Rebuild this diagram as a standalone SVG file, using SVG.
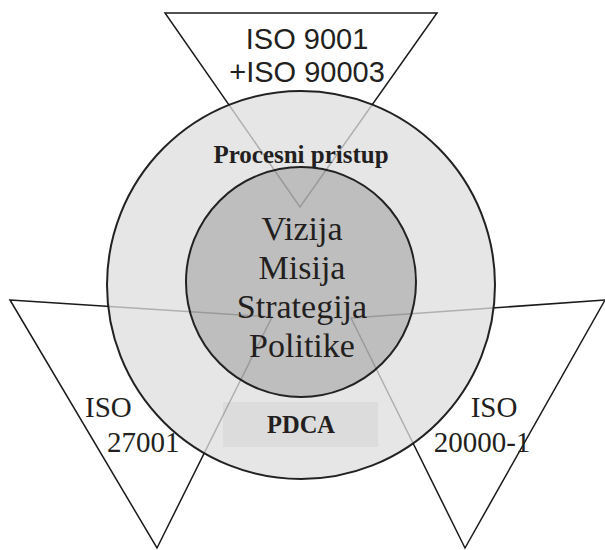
<svg xmlns="http://www.w3.org/2000/svg" width="605" height="550" viewBox="0 0 605 550">
<defs>
<style>
.tri{fill:none;stroke:#1a1a1a;stroke-width:1.5;stroke-linejoin:miter}
.circ{stroke:#222;stroke-width:2}
.sans{font-family:"Liberation Sans",Arial,sans-serif;fill:#231f20}
.serif{font-family:"Liberation Serif","Times New Roman",serif;fill:#231f20}
.bold{font-weight:bold}
</style>
<mask id="m" maskUnits="userSpaceOnUse" x="0" y="0" width="605" height="550">
<rect x="0" y="0" width="605" height="550" fill="#fff"/>
<circle cx="301" cy="285" r="194" fill="#444"/>
<circle cx="301" cy="282" r="115" fill="#383838"/>
</mask>
</defs>
<rect width="605" height="550" fill="#fff"/>
<g id="outer-circle">
<circle class="circ" cx="301" cy="285" r="194" fill="#e6e6e7"/>
<text class="serif bold" x="301" y="163" font-size="25" text-anchor="middle">Procesni pristup</text>
</g>
<g id="pdca">
<rect x="223" y="402" width="155" height="45" fill="#dcdcdc"/>
<text class="serif bold" x="301" y="433" font-size="24.5" text-anchor="middle">PDCA</text>
</g>
<g id="inner-circle">
<circle class="circ" cx="301" cy="282" r="115" fill="#bebebe"/>
<text class="serif" x="302" y="240" font-size="34" text-anchor="middle">Vizija</text>
<text class="serif" x="302" y="279" font-size="34" text-anchor="middle">Misija</text>
<text class="serif" x="302" y="318" font-size="34" text-anchor="middle">Strategija</text>
<text class="serif" x="302" y="357" font-size="34" text-anchor="middle">Politike</text>
</g>
<g id="connectors"/>
<g id="tri-top">
<polygon class="tri" points="165,13 437,13 300,207" mask="url(#m)"/>
<text class="sans" x="307" y="49" font-size="29" text-anchor="middle">ISO 9001</text>
<text class="sans" x="307" y="82" font-size="29" text-anchor="middle">+ISO 90003</text>
</g>
<g id="tri-left">
<polygon class="tri" points="10,300 272,317 157,548" mask="url(#m)"/>
<text class="serif" x="85" y="417" font-size="29">ISO</text>
<text class="serif" x="107" y="452" font-size="29">27001</text>
</g>
<g id="tri-right">
<polygon class="tri" points="351,318 605,300 465,548" mask="url(#m)"/>
<text class="serif" x="494" y="417" font-size="29" text-anchor="middle">ISO</text>
<text class="serif" x="482" y="452" font-size="29" text-anchor="middle">20000-1</text>
</g>
</svg>
